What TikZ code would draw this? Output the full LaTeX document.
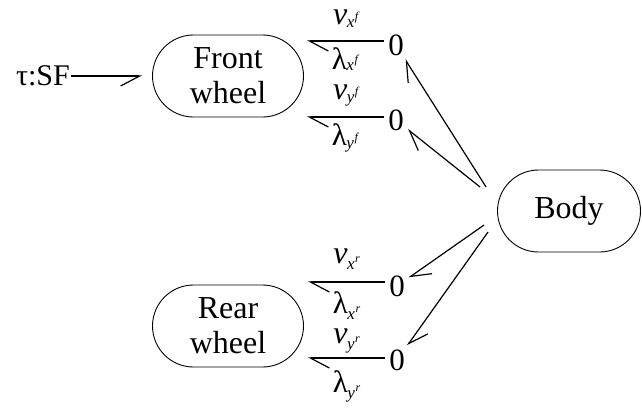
\documentclass[tikz,border=0pt]{standalone}
\usepackage{fontspec}
\setmainfont{Liberation Serif}
\usetikzlibrary{arrows.meta,positioning,shapes.misc}

% flow variable with a subscript that carries its own superscript
\newcommand{\flowlab}[4][-3pt]{#2\kern-0.5pt\raisebox{#1}{\fontsize{17}{17}\selectfont\textit{#3}\kern0.5pt\raisebox{7pt}{\fontsize{12}{12}\selectfont\textit{#4}}}}

\begin{document}
\begin{tikzpicture}[x=1pt,y=-1pt,
  part/.style={rounded rectangle,draw,line width=0.9pt,minimum width=151pt,minimum height=82pt,
    inner sep=0pt,align=center,font=\fontsize{32}{35}\selectfont},
  junc/.style={inner sep=1pt,outer sep=3pt,font=\fontsize{31}{31}\selectfont},
  bond/.style={line width=1.2pt,-{Straight Barb[harpoon,length=19pt,width=20pt]}},
  bondsw/.style={line width=1.2pt,-{Straight Barb[harpoon,swap,length=19pt,width=20pt]}},
  flow/.style={inner sep=0pt,anchor=base,yshift=19pt,font=\fontsize{32}{32}\selectfont\itshape},
  effort/.style={inner sep=0pt,anchor=north,yshift=-7pt,font=\fontsize{31}{31}\selectfont}]
  \useasboundingbox (0,0) rectangle (642,408);
  % parts of the vehicle
  \node[part] (front) at (228,76) {Front\\wheel};
  \node[part] (rear) at (228,326) {Rear\\wheel};
  \node[part,minimum width=143pt] (body) at (569,211) {Body};
  \node[anchor=east,inner sep=1pt,font=\fontsize{30}{30}\selectfont] (sf) at (71,76) {τ:SF};
  % 0-junctions
  \node[junc] (z1) at (396,45) {0};
  \node[junc] (z2) at (396,120) {0};
  \node[junc] (z3) at (397,286) {0};
  \node[junc] (z4) at (397,360) {0};
  \coordinate (bodyup) at ([xshift=-11pt,yshift=24pt]body.west);
  \coordinate (bodydn) at ([xshift=-13pt,yshift=-14pt]body.west);

  \draw[bondsw,shorten >=10pt] (sf.east) -- (sf.east -| front.west);
  \draw[bond] ([yshift=4pt]z1.west) -- node[flow,yshift=-2pt]{\flowlab{v}{x}{f}}
    node[effort,yshift=1pt]{\flowlab[-1.5pt]{λ}{x}{f}} ([xshift=3pt,yshift=4pt]z1.west -| front.east);
  \draw[bond] ([yshift=3pt]z2.west) -- node[flow,yshift=-1pt]{\flowlab{v}{y}{f}}
    node[effort,yshift=1pt]{\flowlab{λ}{y}{f}} ([xshift=3pt,yshift=3pt]z2.west -| front.east);
  \draw[bond] ([yshift=4pt]z3.west) -- node[flow]{\flowlab[-6pt]{v}{x}{r}}
    node[effort,yshift=-2pt]{\flowlab[-6pt]{λ}{x}{r}} ([xshift=4pt,yshift=4pt]z3.west -| rear.east);
  \draw[bond] ([yshift=2pt]z4.west) -- node[flow,yshift=-4pt]{\flowlab[-6pt]{v}{y}{r}}
    node[effort,yshift=-5pt]{\flowlab[-6pt]{λ}{y}{r}} ([xshift=4pt,yshift=2pt]z4.west -| rear.east);

  \draw[bond] (bodyup) -- (z1);
  \draw[bond] ([xshift=-6pt]bodyup) -- (z2);
  \draw[bond] (bodydn) -- (z3);
  \draw[bond] ([xshift=4pt,yshift=-7pt]bodydn) -- (z4);
\end{tikzpicture}
\end{document}
